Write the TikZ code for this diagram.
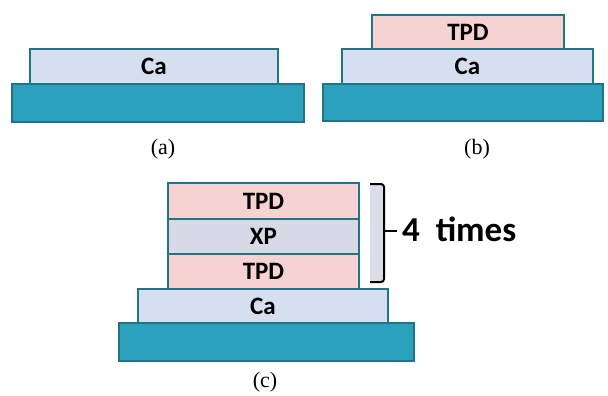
\documentclass[tikz,border=0pt]{standalone}
\usepackage{fontspec}
\setmainfont{Liberation Serif}
\newfontfamily\calib{Carlito}
\definecolor{bordc}{HTML}{217486}
\definecolor{subfill}{HTML}{2BA1BD}
\definecolor{cafill}{HTML}{D5DFEF}
\definecolor{tpdfill}{HTML}{F7D2D3}
\definecolor{xpfill}{HTML}{D7D9E7}
\definecolor{brfill}{HTML}{DCDCE8}
\tikzset{
  layer/.style={draw=bordc, line width=2pt, inner sep=0pt, font=\calib\bfseries\fontsize{25}{27}\selectfont},
  subst/.style={layer, fill=subfill},
  calayer/.style={layer, fill=cafill},
  tpdlayer/.style={layer, fill=tpdfill},
  xplayer/.style={layer, fill=xpfill},
  caption/.style={font=\fontsize{22}{24}\selectfont},
}
\begin{document}
\begin{tikzpicture}[x=1pt,y=-1pt]
\useasboundingbox (0,0) rectangle (608,396);
% (a)
\node[subst, minimum width=292pt, minimum height=38pt] (suba) at (158,103) {};
\node[calayer, minimum width=248pt, minimum height=35pt] (caa) at (154,66.5) {Ca};
\node[caption] (capa) at (163,149) {(a)};
% (b)
\node[subst, minimum width=280pt, minimum height=37pt] (subb) at (463,102.5) {};
\node[calayer, minimum width=251pt, minimum height=35pt] (cab) at (467.5,66.5) {Ca};
\node[tpdlayer, minimum width=192pt, minimum height=34pt] (tpdb) at (468,32) {TPD};
\node[caption] (capb) at (477,149) {(b)};
% (c)
\node[subst, minimum width=295pt, minimum height=38pt] (subc) at (266.5,342) {};
\node[calayer, minimum width=250pt, minimum height=34pt] (cac) at (263,306) {Ca};
\node[tpdlayer, minimum width=191pt, minimum height=35pt] (tpdc1) at (263.5,271.5) {TPD};
\node[xplayer, minimum width=191pt, minimum height=35pt] (xpc) at (263.5,236.5) {XP};
\node[tpdlayer, minimum width=191pt, minimum height=36pt] (tpdc2) at (263.5,201) {TPD};
\node[caption] (capc) at (265,382) {(c)};
% bracket
\fill[brfill] (370,184) rectangle (384,282);
\coordinate (brtop) at (370,184);
\coordinate (brbot) at (370,282);
\coordinate (brmid) at (384,231);
\coordinate (brtip) at (397,231);
\draw[line width=2pt, rounded corners=3pt] (brtop) -- (384,184) -- (384,282) -- (brbot);
\draw[line width=2pt] (brmid) -- (brtip);
\node[anchor=west, inner sep=0pt, font=\calib\bfseries\fontsize{35}{37}\selectfont] (times) at (402,229) {4\ \ times};
\end{tikzpicture}
\end{document}
